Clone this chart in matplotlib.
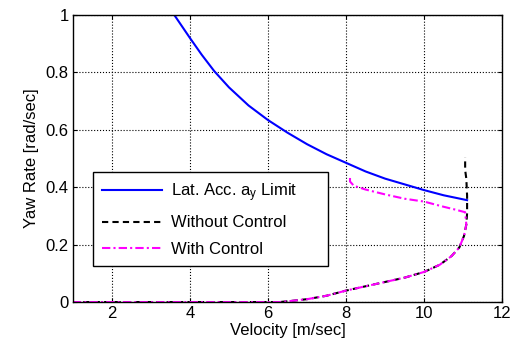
import matplotlib
matplotlib.use('Agg')
import matplotlib.pyplot as plt

plt.rcParams['font.family'] = ['Liberation Sans', 'DejaVu Sans']
plt.rcParams['mathtext.fontset'] = 'custom'
plt.rcParams['mathtext.rm'] = 'Liberation Sans'
plt.rcParams['mathtext.it'] = 'Liberation Sans'

# Lateral acceleration limit curve
v_lim = [3.6, 4.0, 4.3, 4.62, 5.0, 5.5, 6.0, 6.5, 7.0, 7.5, 8.0, 8.5, 9.0, 9.5, 10.0, 10.5, 11.1]
r_lim = [1.0, 0.92, 0.862, 0.805, 0.748, 0.685, 0.634, 0.59, 0.55, 0.515, 0.485, 0.455, 0.43, 0.41, 0.39, 0.372, 0.355]

# Without control
v_nc = [1.0, 3.0, 5.0, 6.3, 6.6, 7.0, 7.5, 8.0, 8.5, 9.0, 9.5, 10.0, 10.4, 10.7, 10.9, 11.02, 11.08, 11.1, 11.1, 11.08, 11.05, 11.05]
r_nc = [0.0, 0.0, 0.0, 0.0, 0.004, 0.01, 0.022, 0.04, 0.055, 0.07, 0.085, 0.105, 0.13, 0.16, 0.19, 0.23, 0.27, 0.31, 0.37, 0.43, 0.46, 0.505]

# With control
v_wc = [1.0, 3.0, 5.0, 6.3, 6.6, 7.0, 7.5, 8.0, 8.5, 9.0, 9.5, 10.0, 10.4, 10.7, 10.9, 11.02, 11.08, 11.05, 10.8, 10.5, 10.0, 9.5, 9.0, 8.5, 8.2, 8.1, 8.1]
r_wc = [0.0, 0.0, 0.0, 0.0, 0.004, 0.01, 0.022, 0.04, 0.055, 0.07, 0.085, 0.105, 0.13, 0.16, 0.19, 0.23, 0.27, 0.313, 0.322, 0.332, 0.35, 0.36, 0.375, 0.392, 0.405, 0.42, 0.435]

fs = 12

fig = plt.figure(figsize=(5.13, 3.5), dpi=100)
ax = fig.add_axes([0.142, 0.137, 0.837, 0.82])

ax.plot(v_lim, r_lim, color='#0000ff', linewidth=1.5, label='Lat. Acc. $a_y$ Limit')
ax.plot(v_nc, r_nc, color='black', linestyle='--', linewidth=1.5, dashes=(3, 2), label='Without Control')
ax.plot(v_wc, r_wc, color='#ff00ff', linestyle='-.', linewidth=1.5, dashes=(4, 1.5, 1, 1.5), label='With Control')

ax.set_xlim(1, 12)
ax.set_ylim(0, 1)
ax.set_xticks([2, 4, 6, 8, 10, 12])
ax.set_yticks([0, 0.2, 0.4, 0.6, 0.8, 1])
ax.set_yticklabels(['0', '0.2', '0.4', '0.6', '0.8', '1'])
ax.tick_params(direction='in', length=3, labelsize=fs, top=True, right=True, pad=3)
ax.grid(True, linestyle=':', linewidth=0.8, color='black')
for s in ax.spines.values():
    s.set_linewidth(1.0)

ax.set_xlabel('Velocity [m/sec]', fontsize=fs, labelpad=1)
ax.set_ylabel('Yaw Rate [rad/sec]', fontsize=fs, labelpad=5)

leg = ax.legend(loc='lower left', bbox_to_anchor=(0.047, 0.125, 0.547, 0.314), mode='expand',
                fontsize=fs, fancybox=False, framealpha=1, edgecolor='black',
                handlelength=3.6, handletextpad=0.5, labelspacing=0.7,
                borderaxespad=0, borderpad=0.55)
leg.get_frame().set_linewidth(1.0)

fig.savefig('out.png', dpi=100)
